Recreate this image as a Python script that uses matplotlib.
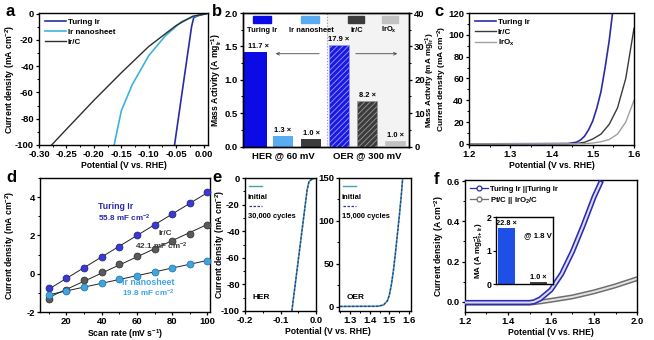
import numpy as np
import matplotlib
matplotlib.use('Agg')
import matplotlib.pyplot as plt
from matplotlib.patches import Rectangle
from matplotlib.lines import Line2D
from matplotlib.ticker import AutoMinorLocator

plt.rcParams['font.family'] = ['Liberation Sans', 'DejaVu Sans']
plt.rcParams['font.weight'] = 'bold'
plt.rcParams['axes.labelweight'] = 'bold'
plt.rcParams['axes.unicode_minus'] = False
plt.rcParams['mathtext.fontset'] = 'custom'
plt.rcParams['mathtext.rm'] = 'Liberation Sans:bold'
plt.rcParams['mathtext.it'] = 'Liberation Sans:bold'
plt.rcParams['mathtext.bf'] = 'Liberation Sans:bold'
plt.rcParams['mathtext.default'] = 'rm'
plt.rcParams['axes.linewidth'] = 1.0
plt.rcParams['hatch.linewidth'] = 0.6

# ---------------- data ----------------
# panel a (HER LSV)
a_turing_v = [0.005, 0.0, -0.01, -0.018, -0.022, -0.053]
a_turing_j = [0.0, -0.5, -1.5, -3.0, -10.0, -100.0]
a_nano_v = [0.0, -0.02, -0.04, -0.07, -0.10, -0.13, -0.15, -0.163]
a_nano_j = [0.0, -2.5, -6.0, -17.0, -32.0, -54.0, -74.0, -100.0]
a_irc_v = [0.005, -0.02, -0.05, -0.10, -0.15, -0.20, -0.25, -0.277]
a_irc_j = [0.0, -2.0, -9.0, -25.0, -45.0, -66.0, -88.0, -100.0]

# panel b (mass activity)
b_labels = ['Turing Ir', 'Ir nanosheet', 'Ir/C', 'IrO$_x$']
b_her = [1.41, 0.15, 0.11]
b_her_fold = ['11.7 ×', '1.3 ×', '1.0 ×']
b_oer = [30.3, 13.7, 1.5]
b_oer_fold = ['17.9 ×', '8.2 ×', '1.0 ×']
b_groups = ['HER @ 60 mV', 'OER @ 300 mV']

# panel c (OER LSV)
c_turing_v = [1.20, 1.44, 1.46, 1.47, 1.48, 1.49, 1.50, 1.51, 1.52, 1.53, 1.54, 1.548]
c_turing_j = [0.0, 0.3, 1.5, 3.5, 7.0, 13.0, 21.0, 33.0, 48.0, 70.0, 95.0, 120.0]
c_irc_v = [1.20, 1.46, 1.48, 1.50, 1.52, 1.54, 1.56, 1.58, 1.60]
c_irc_j = [0.0, 0.3, 1.5, 4.5, 9.0, 18.0, 33.0, 60.0, 106.0]
c_irox_v = [1.20, 1.48, 1.50, 1.52, 1.54, 1.56, 1.58, 1.60]
c_irox_j = [0.0, 0.2, 0.8, 2.0, 4.0, 9.0, 20.0, 40.0]

# panel d (Cdl)
d_scan = [10, 20, 30, 40, 50, 60, 70, 80, 90, 100]
d_turing = [-0.75, -0.25, 0.30, 0.85, 1.40, 2.00, 2.55, 3.10, 3.70, 4.25]
d_irc = [-1.32, -0.85, -0.35, 0.08, 0.50, 0.95, 1.30, 1.70, 2.10, 2.56]
d_nano = [-1.10, -0.90, -0.70, -0.50, -0.30, -0.10, 0.10, 0.30, 0.50, 0.68]

# panel e (stability)
e_her_v = [0.0, -0.008, -0.015, -0.02, -0.025, -0.068]
e_her_j = [0.0, -0.6, -1.5, -3.0, -9.0, -100.0]
e_oer_v = [1.25, 1.44, 1.46, 1.47, 1.49, 1.50, 1.51, 1.52, 1.53, 1.54, 1.55, 1.56, 1.567]
e_oer_j = [0.3, 0.5, 1.5, 2.0, 7.0, 14.0, 26.0, 42.0, 62.0, 84.0, 106.0, 130.0, 150.0]

# panel f (overall water splitting)
f_turing_v = [1.20, 1.50, 1.52, 1.55, 1.60, 1.65, 1.70, 1.75, 1.80, 1.83]
f_turing_j = [-0.003, -0.003, 0.0, 0.015, 0.06, 0.14, 0.25, 0.38, 0.52, 0.59]
f_ptc_v = [1.20, 1.50, 1.55, 1.60, 1.70, 1.80, 1.90, 2.00]
f_ptc_j = [-0.006, -0.006, 0.0, 0.008, 0.025, 0.05, 0.08, 0.115]
f_inset = [1.66, 0.05]
f_inset_fold = ['22.8 ×', '1.0 ×']

# ---------------- figure ----------------
W, H = 654, 340
fig = plt.figure(figsize=(W / 100, H / 100), dpi=100)


def add_ax(x0, y0, x1, y1):
    return fig.add_axes([x0 / W, 1 - y1 / H, (x1 - x0) / W, (y1 - y0) / H])


def ylab_at(ax, x_px, x0, x1):
    """place y label edge at an absolute pixel column"""
    ax.yaxis.set_label_coords((x_px - x0) / (x1 - x0), 0.5)


TFS = 6.8   # tick font size
LFS = 6.2   # label font size


def style(ax, minor=True):
    ax.tick_params(direction='out', length=2.5, width=0.9, labelsize=TFS, pad=1.2)
    ax.tick_params(which='minor', direction='out', length=1.5, width=0.7)
    if minor:
        ax.xaxis.set_minor_locator(AutoMinorLocator(2))
        ax.yaxis.set_minor_locator(AutoMinorLocator(2))
    for lab in ax.get_xticklabels() + ax.get_yticklabels():
        lab.set_fontweight('bold')


def panel_letter(x, y, s):
    fig.text(x / W, 1 - y / H, s, fontsize=12, fontweight='bold', va='center', ha='left')


# ---- a ----
axa = add_ax(39, 13, 208, 145)
axa.plot(a_turing_v, a_turing_j, color='#2b2ba6', lw=1.2, label='Turing Ir')
axa.plot(a_nano_v, a_nano_j, color='#3cb4d8', lw=1.2, label='Ir nanosheet')
axa.plot(a_irc_v, a_irc_j, color='#2e2e2e', lw=1.0, label='Ir/C')
axa.set_xlim(-0.30, 0.008)
axa.set_ylim(-100, 0.5)
axa.set_xticks([-0.30, -0.25, -0.20, -0.15, -0.10, -0.05, 0.00])
axa.set_xticklabels(['%.2f' % v for v in [-0.30, -0.25, -0.20, -0.15, -0.10, -0.05, 0.00]])
axa.set_yticks([0, -20, -40, -60, -80, -100])
axa.set_xlabel('Potential (V vs. RHE)', fontsize=LFS, labelpad=1)
axa.set_ylabel('Current density (mA cm$^{-2}$)', fontsize=LFS)
ylab_at(axa, 17, 39, 208)
axa.legend(loc='upper left', frameon=False, fontsize=5.8, handlelength=2.6,
           borderaxespad=0.3, labelspacing=0.25, handletextpad=0.3)
style(axa)
panel_letter(6, 11, 'a')

# ---- b ----
axb = add_ax(243, 13, 409, 146.5)
axb2 = axb.twinx()
bx_her = [0, 1, 2]
bx_oer = [3, 4, 5]
her_cols = ['#0b0be6', '#5aacf0', '#3c3c3c']
oer_cols = ['#1a1ae0', '#3c3c3c', '#c2c2c2']
oer_hatch_cols = ['#9a9aff', '#9a9a9a', '#c2c2c2']
axb.axvspan(2.57, 5.6, color='#f3f3f3', zorder=0, lw=0)
axb.bar(bx_her, b_her, width=[0.82, 0.7, 0.7], color=her_cols, zorder=2)
her_lab_x = [0.12, 1, 2]
for x, v, t in zip(her_lab_x, b_her, b_her_fold):
    axb.text(x, v + 0.03, t, ha='center', va='bottom', fontsize=5.4, fontweight='bold')
bars = axb2.bar(bx_oer, b_oer, width=0.7, color=oer_cols, zorder=2)
for bar, hc, hatch in zip(bars, oer_hatch_cols, ['//////', '//////', '']):
    bar.set_hatch(hatch)
    bar.set_edgecolor(hc)
    bar.set_linewidth(0.5)
for x, v, t in zip(bx_oer, b_oer, b_oer_fold):
    axb2.text(x, v + 0.6, t, ha='center', va='bottom', fontsize=5.4, fontweight='bold')
axb.axvline(2.57, ls=':', color='#999999', lw=0.8, zorder=1)
axb.annotate('', xy=(0.64, 1.39), xytext=(2.39, 1.39),
             arrowprops=dict(arrowstyle='->', color='#444444', lw=0.6, mutation_scale=5))
axb.annotate('', xy=(5.18, 1.39), xytext=(3.5, 1.39),
             arrowprops=dict(arrowstyle='->', color='#444444', lw=0.6, mutation_scale=5))
axb.set_xlim(-0.43, 5.5)
axb.set_ylim(0, 2.0)
axb2.set_ylim(0, 40)
axb.set_yticks([0.0, 0.5, 1.0, 1.5, 2.0])
axb.set_yticklabels(['0.0', '0.5', '1.0', '1.5', '2.0'])
axb2.set_yticks([0, 10, 20, 30, 40])
axb.set_xticks([1, 4])
axb.set_xticklabels(b_groups, fontsize=6.8, fontweight='bold')
axb.set_ylabel('Mass Activity (A mg$_{Ir}^{-1}$)', fontsize=LFS)
ylab_at(axb, 224.5, 243, 409)
axb2.set_ylabel('Mass Activity (mA mg$_{Ir}^{-1}$)', fontsize=5.9)
ylab_at(axb2, 423.8, 243, 409)
style(axb, minor=False)
style(axb2, minor=False)
axb.tick_params(axis='x', length=0, pad=3)
axb.yaxis.set_minor_locator(AutoMinorLocator(2))
axb2.yaxis.set_minor_locator(AutoMinorLocator(2))
leg_cols = ['#0b0be6', '#5aacf0', '#3c3c3c', '#c2c2c2']
leg_x = [(0.060, 0.169), (0.348, 0.456), (0.631, 0.731), (0.836, 0.936)]
leg_tx = [0.115, 0.41, 0.685, 0.878]
for (x0, x1), c, tx, lab in zip(leg_x, leg_cols, leg_tx, b_labels):
    axb2.add_patch(Rectangle((x0, 0.923), x1 - x0, 0.055, transform=axb2.transAxes,
                             color=c, zorder=5, clip_on=False))
    axb2.text(tx, 0.872, lab, transform=axb2.transAxes, ha='center', va='center',
              fontsize=5.4, fontweight='bold', zorder=5)
panel_letter(212, 11, 'b')

# ---- c ----
axc = add_ax(469, 13, 634, 145)
axc.plot(c_turing_v, c_turing_j, color='#2b2ba6', lw=1.2, label='Turing Ir')
axc.plot(c_irc_v, c_irc_j, color='#3a3a3a', lw=1.0, label='Ir/C')
axc.plot(c_irox_v, c_irox_j, color='#a0a0a0', lw=1.0, label='IrO$_x$')
axc.set_xlim(1.2, 1.6)
axc.set_ylim(-1, 120)
axc.set_xticks([1.2, 1.3, 1.4, 1.5, 1.6])
axc.set_yticks([0, 20, 40, 60, 80, 100, 120])
axc.set_xlabel('Potential (V vs. RHE)', fontsize=LFS, labelpad=1)
axc.set_ylabel('Current density (mA cm$^{-2}$)', fontsize=6.0)
ylab_at(axc, 449, 469, 634)
axc.legend(loc='upper left', frameon=False, fontsize=5.8, handlelength=2.6,
           borderaxespad=0.3, labelspacing=0.25, handletextpad=0.3)
style(axc)
panel_letter(434, 11, 'c')

# ---- d ----
axd = add_ax(40, 178, 210, 312)
for ys, fc, ec in [(d_turing, '#3a3ad0', '#1c1c80'), (d_irc, '#5a5a5a', '#2a2a2a'),
                   (d_nano, '#3fa5e0', '#1f6f9f')]:
    k, b0 = np.polyfit(d_scan, ys, 1)
    xs = np.array([min(d_scan), max(d_scan)])
    axd.plot(xs, k * xs + b0, color='#222222', lw=0.7, zorder=2)
    axd.plot(d_scan, ys, 'o', ms=5, mfc=fc, mec=ec, mew=0.5, zorder=3, clip_on=False)
axd.text(0.341, 0.784, 'Turing Ir', transform=axd.transAxes, fontsize=6.3, color='#2a2aa8',
         va='center')
axd.text(0.341, 0.70, '55.8 mF cm$^{-2}$', transform=axd.transAxes, fontsize=5.9,
         color='#2a2aa8', va='center')
axd.text(0.775, 0.585, 'Ir/C', transform=axd.transAxes, fontsize=5.9, color='#3a3a3a',
         va='center', ha='right')
axd.text(0.56, 0.49, '42.1 mF cm$^{-2}$', transform=axd.transAxes, fontsize=5.9,
         color='#3a3a3a', va='center', zorder=4)
axd.text(0.48, 0.222, 'Ir nanosheet', transform=axd.transAxes, fontsize=6.3,
         color='#3fa5e0', va='center')
axd.text(0.48, 0.142, '19.8 mF cm$^{-2}$', transform=axd.transAxes, fontsize=5.9,
         color='#3fa5e0', va='center')
axd.set_xlim(5, 101.5)
axd.set_ylim(-2, 5)
axd.set_xticks([20, 40, 60, 80, 100])
axd.set_yticks([-2, 0, 2, 4])
axd.set_xlabel('Scan rate (mV s$^{-1}$)', fontsize=LFS, labelpad=0.5)
axd.set_ylabel('Current density (mA cm$^{-2}$)', fontsize=LFS)
ylab_at(axd, 17, 40, 210)
style(axd)
panel_letter(6, 178, 'd')

# ---- e ----
axe1 = add_ax(245, 178, 316, 311)
axe2 = add_ax(339, 178, 411, 311)
axe1.plot(e_her_v, e_her_j, color='#4c9fb0', lw=1.2)
axe1.plot(e_her_v, e_her_j, color='#2a3a8a', lw=0.9, ls=(0, (2, 1.2)))
axe2.plot(e_oer_v, e_oer_j, color='#4c9fb0', lw=1.2)
axe2.plot(e_oer_v, e_oer_j, color='#2a3a8a', lw=0.9, ls=(0, (2, 1.2)))
axe1.set_xlim(-0.2, 0.0)
axe1.set_ylim(-100, 0)
axe1.set_xticks([-0.2, -0.1, 0.0])
axe1.set_xticklabels(['-0.2', '-0.1', '0.0'])
axe1.set_yticks([0, -20, -40, -60, -80, -100])
axe2.set_xlim(1.245, 1.609)
axe2.set_ylim(-5, 150)
axe2.set_xticks([1.3, 1.4, 1.5, 1.6])
axe2.set_yticks([0, 50, 100, 150])
axe1.set_ylabel('Current density (mA cm$^{-2}$)', fontsize=LFS)
ylab_at(axe1, 227, 245, 316)
for ax, cyc, name in [(axe1, '30,000 cycles', 'HER'), (axe2, '15,000 cycles', 'OER')]:
    ax.add_line(Line2D([0.056, 0.24], [0.94, 0.94], transform=ax.transAxes,
                       color='#4c9fb0', lw=1.0))
    ax.text(0.04, 0.857, 'initial', transform=ax.transAxes, fontsize=5.4, va='center')
    ax.add_line(Line2D([0.056, 0.24], [0.79, 0.79], transform=ax.transAxes,
                       color='#2a3a8a', lw=0.9, ls=(0, (2, 1.2))))
    ax.text(0.04, 0.707, cyc, transform=ax.transAxes, fontsize=5.4, va='center')
    ax.text(0.1, 0.1, name, transform=ax.transAxes, fontsize=6.0, va='center')
    style(ax)
fig.text(328 / W, 1 - 331 / H, 'Potential (V vs. RHE)', fontsize=LFS, fontweight='bold',
         ha='center', va='center')
panel_letter(212, 178, 'e')

# ---- f ----
axf = add_ax(465, 180, 637, 312)
blue_f = '#2a2ab4'
gray_f = '#6e6e6e'
axf.plot(f_ptc_v, f_ptc_j, color=gray_f, lw=3.6, solid_joinstyle='round', zorder=2)
axf.plot(f_ptc_v, f_ptc_j, color='#e4e4e4', lw=1.4, solid_joinstyle='round', zorder=2)
axf.plot(f_turing_v, f_turing_j, color=blue_f, lw=3.8, solid_joinstyle='round', zorder=3)
axf.plot(f_turing_v, f_turing_j, color='#dcdcf6', lw=1.5, solid_joinstyle='round', zorder=3)
axf.set_xlim(1.2, 2.0)
axf.set_ylim(-0.05, 0.605)
axf.set_xticks([1.2, 1.4, 1.6, 1.8, 2.0])
axf.set_yticks([0.0, 0.2, 0.4, 0.6])
axf.set_yticklabels(['0.0', '0.2', '0.4', '0.6'])
axf.set_xlabel('Potential (V vs. RHE)', fontsize=LFS, labelpad=1)
axf.set_ylabel('Current density (A cm$^{-2}$)', fontsize=LFS)
ylab_at(axf, 446, 465, 637)
h1 = Line2D([], [], color=blue_f, lw=0.9, marker='o', ms=3.5, mfc='white', mec=blue_f, mew=0.9)
h2 = Line2D([], [], color=gray_f, lw=0.9, marker='o', ms=3.5, mfc='white', mec=gray_f, mew=0.9)
axf.legend([h1, h2], ['Turing Ir ||Turing Ir', 'Pt/C || IrO$_2$/C'], loc='upper left',
           frameon=False, fontsize=5.6, handlelength=2.2, borderaxespad=0.3,
           labelspacing=0.3, handletextpad=0.3)
style(axf)
panel_letter(434, 180, 'f')

axi = add_ax(496, 217, 553, 284)
axi.bar([0, 1], f_inset, width=0.53, color=['#1e4fe6', '#444444'])
for x, v, t in zip([0, 1], f_inset, f_inset_fold):
    axi.text(x, v + 0.04, t, ha='center', va='bottom', fontsize=5.3, fontweight='bold')
axi.text(0.74, 0.72, '@ 1.8 V', transform=axi.transAxes, fontsize=5.6, ha='center',
         va='center')
axi.set_xlim(-0.33, 1.45)
axi.set_ylim(0, 2)
axi.set_xticks([])
axi.set_yticks([0, 1, 2])
axi.set_ylabel('MA (A mg$^{-1}_{Pt+Ir}$)', fontsize=5.8)
ylab_at(axi, 486.5, 496, 553)
axi.tick_params(direction='out', length=2, width=0.8, labelsize=6.3, pad=1)

fig.savefig('out.png', dpi=100)
